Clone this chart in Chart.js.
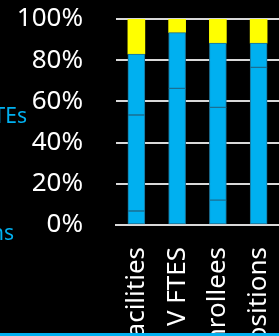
<!DOCTYPE html>
<html>
<head>
<meta charset="utf-8">
<script src="https://cdn.jsdelivr.net/npm/chart.js@4"></script>
<style>
  html, body { margin: 0; padding: 0; background: #000; overflow: hidden; }
  body { width: 279px; height: 336px; position: relative; }
  #chart { position: absolute; left: 0; top: 0; }
  .side { position: absolute; color: #00B0F0; font-family: "Noto Sans"; font-size: 21px; line-height: 21px; white-space: nowrap; text-align: right; }
  #bottomLine { position: absolute; left: 0; right: 0; bottom: 0; height: 3px; background: #00B0F0; }
</style>
</head>
<body>
<canvas id="chart" width="279" height="380"></canvas>
<div class="side" style="right: 252px; top: 105px;">FTEs</div>
<div class="side" style="right: 265px; top: 222px;">Positions</div>
<div id="bottomLine"></div>
<script>
// categories (labels are cut off by the frame in the picture)
const categories = ['Facilities', 'V FTES', 'Enrollees', 'Positions'];

// stacked shares in %, bottom to top
const part1 = [6.8, 0, 12.1, 0];
const part2 = [46.6, 66.3, 45.0, 76.5];
const part3 = [29.6, 27.1, 31.2, 11.8];
const part4 = [17.0, 6.6, 11.7, 11.7];

const yTicks = [0, 20, 40, 60, 80, 100];

const blue = '#00B0F0';
const yellow = '#FFFF00';
const edge = '#1B6F93';

function blueSet(label, data) {
    return {
        label: label,
        data: data,
        backgroundColor: blue,
        borderColor: edge,
        borderWidth: 1,
        borderSkipped: false,
        barThickness: 17
    };
}

const ctx = document.getElementById('chart').getContext('2d');
const myChart = new Chart(ctx, {
    type: 'bar',
    data: {
        labels: categories,
        datasets: [
            blueSet('Part 1', part1),
            blueSet('Part 2', part2),
            blueSet('Part 3', part3),
            {
                label: 'Part 4',
                data: part4,
                backgroundColor: yellow,
                borderWidth: 0,
                barThickness: 17
            }
        ]
    },
    options: {
        responsive: false,
        animation: false,
        layout: { padding: { top: 19, right: 0, left: 0, bottom: 0 } },
        plugins: {
            legend: { display: false },
            tooltip: { enabled: false }
        },
        scales: {
            x: {
                stacked: true,
                afterFit: function(scale) {
                    scale.height = 155;
                    scale.paddingLeft = 0;
                    scale.paddingRight = 0;
                    scale.paddingTop = 0;
                    scale.paddingBottom = 0;
                },
                grid: { display: false, drawTicks: false },
                border: { display: true, color: '#D9D9D9', width: 2 },
                ticks: {
                    color: '#fff',
                    minRotation: 90,
                    maxRotation: 90,
                    autoSkip: false,
                    padding: 22,
                    font: { family: 'Noto Sans', size: 26 }
                }
            },
            y: {
                stacked: true,
                min: 0,
                max: 100,
                afterFit: function(scale) {
                    scale.width = 116;
                    scale.paddingTop = 0;
                    scale.paddingBottom = 0;
                },
                afterBuildTicks: function(scale) {
                    scale.ticks = yTicks.map(v => ({ value: v }));
                },
                grid: { color: '#D9D9D9', lineWidth: 2, drawTicks: false },
                border: { display: false },
                ticks: {
                    color: '#fff',
                    padding: 33,
                    font: { family: 'Noto Sans', size: 26 },
                    callback: function(v) { return v + '%'; }
                }
            }
        }
    }
});
</script>
</body>
</html>
